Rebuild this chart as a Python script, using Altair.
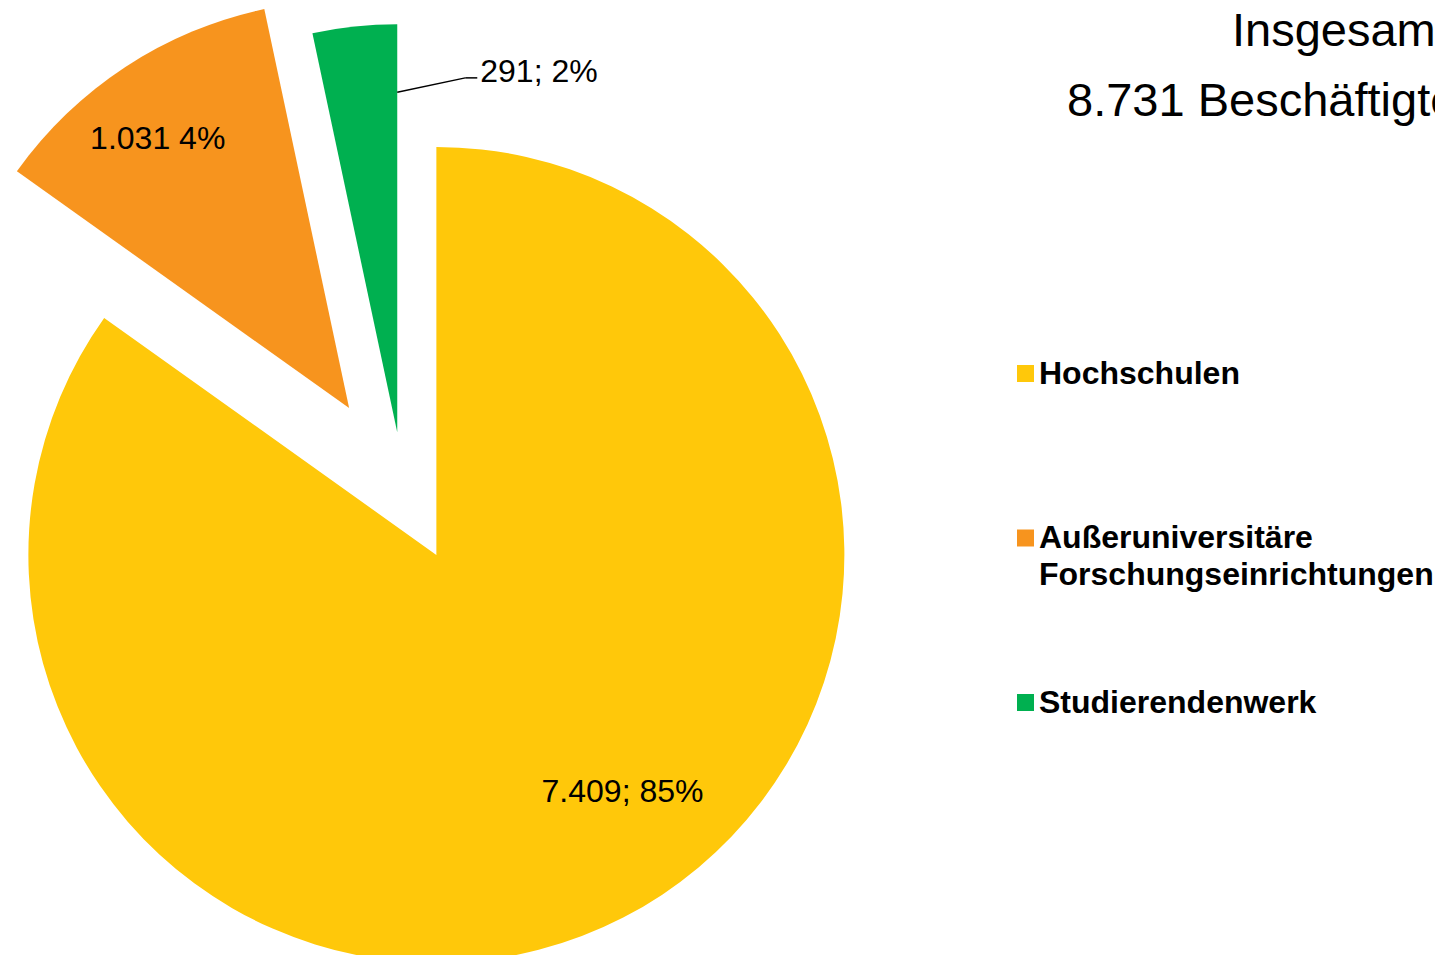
import math
import altair as alt
import pandas as pd

# ---- data ----
categories = ["Hochschulen", "Außeruniversitäre Forschungseinrichtungen", "Studierendenwerk"]
legend_labels = ["Hochschulen", "Außeruniversitäre\nForschungseinrichtungen", "Studierendenwerk"]
values = [7409, 1031, 291]
value_labels = ["7.409; 85%", "1.031 4%", "291; 2%"]
title_lines = ["Insgesamt", "8.731 Beschäftigte"]

# ---- style ----
colors = ["#FFC80A", "#F7941E", "#00B050"]
explode = [72, 99, 59]            # px, slice offset along its mid angle
label_radius = [300, 332, 362]    # px from the slice's own centre
label_shift_deg = [-11.1, -1.95, 19.26]
label_outside = [False, False, True]

CX, CY, R = 395.4, 482.9, 408
TOTAL = sum(values)
FONT = "Liberation Sans"

df = pd.DataFrame({
    "category": categories,
    "legend": legend_labels,
    "value": values,
    "vlabel": value_labels,
    "order": list(range(len(categories))),
    "explode": explode,
    "lr": label_radius,
    "lshift": label_shift_deg,
    "outside": label_outside,
})

base = (
    alt.Chart(df)
    .transform_joinaggregate(total="sum(value)")
    .transform_window(cum="sum(value)", sort=[alt.SortField("order")], frame=[None, 0])
    .transform_calculate(
        start="datum.cum - datum.value",
        end="datum.cum",
        ang="2*PI*(datum.cum - datum.value/2)/datum.total",
        endang="2*PI*datum.cum/datum.total",
    )
    .transform_calculate(
        cx=f"{CX} + datum.explode*sin(datum.ang)",
        cy=f"{CY} - datum.explode*cos(datum.ang)",
        la="datum.ang + datum.lshift*PI/180",
    )
    .transform_calculate(
        lx="datum.cx + datum.lr*sin(datum.la)",
        ly="datum.cy - datum.lr*cos(datum.la) + 2",
        sx="datum.cx + 340*sin(datum.endang)",
        sy="datum.cy - 340*cos(datum.endang)",
        legx="1017.5",
        legy="365.5 + datum.order*164.5",
    )
    .transform_calculate(
        ex="datum.lx - 15",
        ey="datum.ly - 4",
        tx="datum.lx - 3",
        legty="datum.legy + 10",
    )
)

color = alt.Color("category:N", scale=alt.Scale(domain=categories, range=colors), legend=None)

pie = base.mark_arc(radius=R).encode(
    theta=alt.Theta("start:Q", stack=None,
                    scale=alt.Scale(domain=[0, TOTAL], range=[0, 2 * math.pi])),
    theta2="end:Q",
    x=alt.X("cx:Q", scale=None, axis=None),
    y=alt.Y("cy:Q", scale=None, axis=None),
    color=color,
)

inner_labels = base.transform_filter("!datum.outside").mark_text(
    font=FONT, fontSize=32, align="center", baseline="middle", color="black"
).encode(
    x=alt.X("lx:Q", scale=None), y=alt.Y("ly:Q", scale=None), text="vlabel:N"
)

outer_labels = base.transform_filter("datum.outside").mark_text(
    font=FONT, fontSize=32, align="left", baseline="alphabetic", color="black"
).encode(
    x=alt.X("lx:Q", scale=None), y=alt.Y("ly:Q", scale=None), text="vlabel:N"
)

leader1 = base.transform_filter("datum.outside").mark_rule(color="black", strokeWidth=1.5).encode(
    x=alt.X("sx:Q", scale=None), y=alt.Y("sy:Q", scale=None),
    x2="ex:Q", y2="ey:Q",
)
leader2 = base.transform_filter("datum.outside").mark_rule(color="black", strokeWidth=1.5).encode(
    x=alt.X("ex:Q", scale=None), y=alt.Y("ey:Q", scale=None),
    x2="tx:Q", y2="ey:Q",
)

legend_sq = base.mark_square(size=289, opacity=1).encode(
    x=alt.X("legx:Q", scale=None), y=alt.Y("legy:Q", scale=None), color=color,
)
legend_txt = base.mark_text(
    font=FONT, fontSize=32, fontWeight="bold", align="left", baseline="alphabetic",
    lineBreak="\n", lineHeight=37, color="black",
).encode(
    x=alt.value(1031), y=alt.Y("legty:Q", scale=None), text="legend:N"
)

title1 = alt.Chart(pd.DataFrame({"t": [title_lines[0]]})).mark_text(
    font=FONT, fontSize=47, align="left", baseline="alphabetic", color="black"
).encode(x=alt.value(1224), y=alt.value(37.7), text="t:N")
title2 = alt.Chart(pd.DataFrame({"t": [title_lines[1]]})).mark_text(
    font=FONT, fontSize=47, align="left", baseline="alphabetic", color="black"
).encode(x=alt.value(1059), y=alt.value(107.7), text="t:N")

chart = alt.layer(
    pie, inner_labels, leader1, leader2, outer_labels, legend_sq, legend_txt, title1, title2
).properties(
    width=1427, height=947,
    autosize=alt.AutoSizeParams(type="none"),
    padding=0,
).configure_view(stroke=None)

chart.save("out.html", embed_options={"renderer": "svg", "actions": False})
